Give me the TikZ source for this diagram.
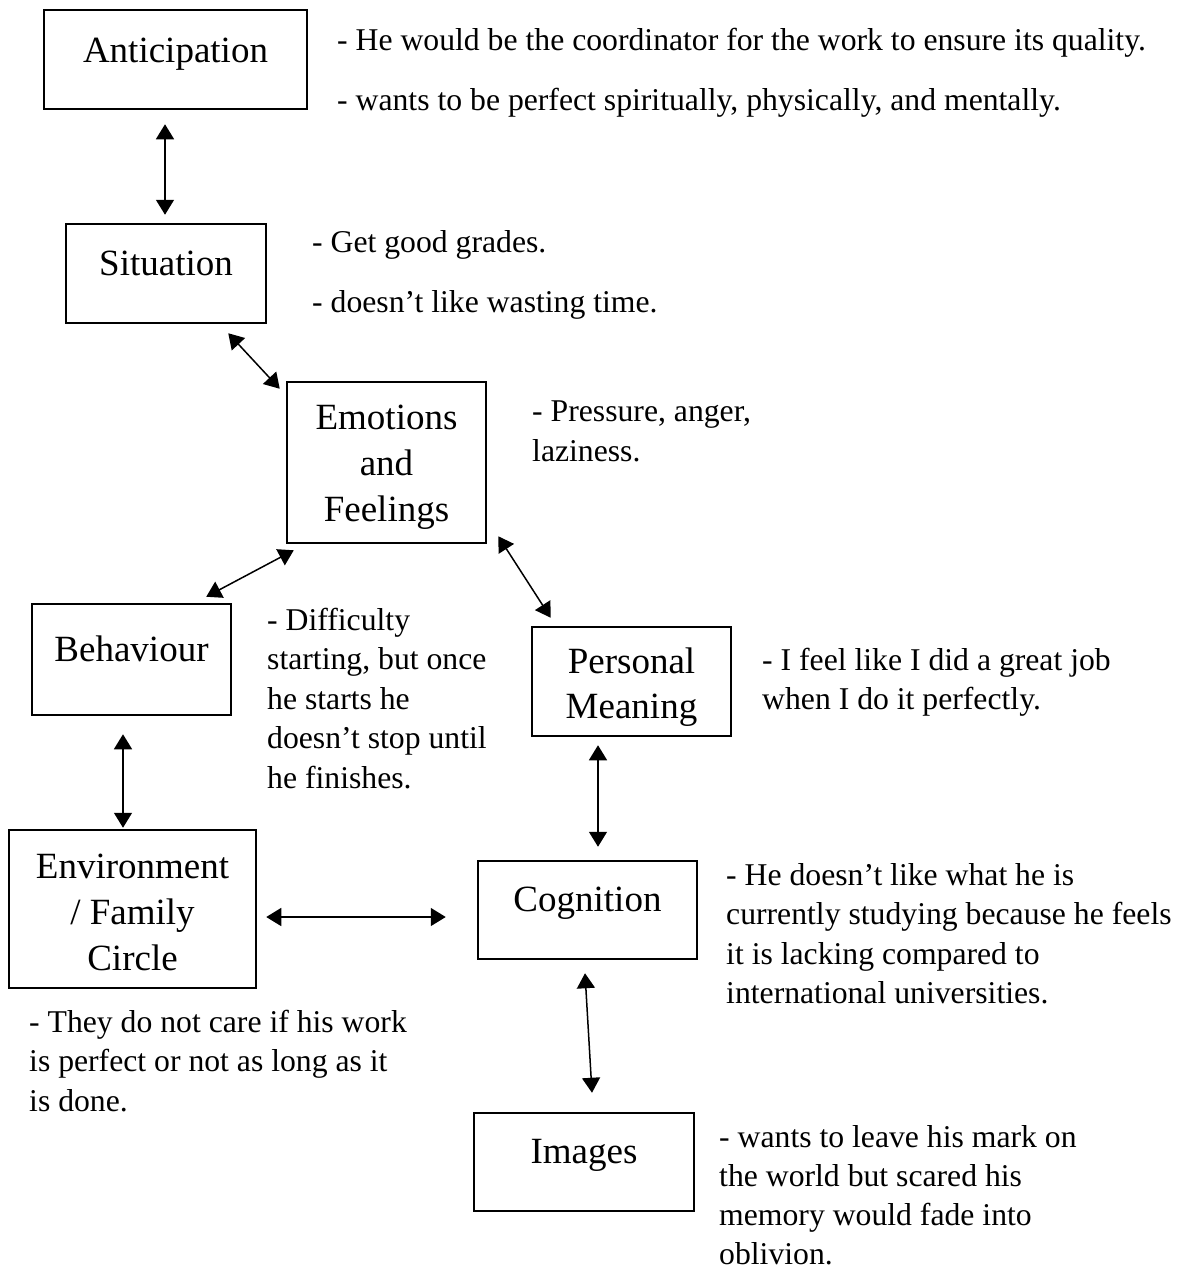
\documentclass[tikz,border=0pt]{standalone}
\usepackage{fontspec}
\setmainfont{Liberation Serif}
\usetikzlibrary{arrows.meta,calc}

\tikzset{
  box/.style={draw=black, line width=2.5pt, inner sep=0pt, rectangle},
  % multi-line nodes: the base anchor sits on the last line
  boxtext/.style={inner sep=0pt, anchor=base, align=center,
    font=\fontsize{37}{46}\selectfont},
  note/.style={inner sep=0pt, anchor=base west, align=left,
    font=\fontsize{31.7}{39.5}\selectfont},
  link/.style={line width=1.5pt,
    {Triangle[width=18pt,length=15pt]}-{Triangle[width=18pt,length=15pt]}}
}

\begin{document}
\begin{tikzpicture}[x=1pt,y=-1pt]
\useasboundingbox (0,0) rectangle (1182,1275);

% frames
\node[box, minimum width=263pt, minimum height=99pt]  (ant) at (175.5,59.5) {};
\node[box, minimum width=200pt, minimum height=99pt]  (sit) at (166,273.5) {};
\node[box, minimum width=199pt, minimum height=161pt] (emo) at (386.5,462.5) {};
\node[box, minimum width=199pt, minimum height=111pt] (beh) at (131.5,659.5) {};
\node[box, minimum width=199pt, minimum height=109pt] (per) at (631.5,681.5) {};
\node[box, minimum width=247pt, minimum height=158pt] (env) at (132.5,909) {};
\node[box, minimum width=219pt, minimum height=98pt]  (cog) at (587.5,910) {};
\node[box, minimum width=220pt, minimum height=98pt]  (img) at (584,1162) {};

% titles inside the frames
\node[boxtext] (antT) at (175.5,62)  {Anticipation};
\node[boxtext] (sitT) at (166,275)   {Situation};
\node[boxtext] (emoT) at (386.5,521) {Emotions\\and\\Feelings};
\node[boxtext] (behT) at (131.5,661) {Behaviour};
\node[boxtext, font=\fontsize{37}{45}\selectfont] (perT) at (631.5,718) {Personal\\Meaning};
\node[boxtext] (envT) at (132.5,970) {Environment\\/ Family\\Circle};
\node[boxtext] (cogT) at (587.5,911) {Cognition};
\node[boxtext] (imgT) at (584,1163)  {Images};

% notes
\node[note] (antN) at (337,110) {- He would be the coordinator for the work to ensure its quality.\\[20.5pt]- wants to be perfect spiritually, physically, and mentally.};
\node[note] (sitN) at (312,312) {- Get good grades.\\[20.5pt]- doesn’t like wasting time.};
\node[note] (emoN) at (532,461) {- Pressure, anger,\\laziness.};
\node[note] (behN) at (267,788) {- Difficulty\\starting, but once\\he starts he\\doesn’t stop until\\he finishes.};
\node[note] (perN) at (762,709.5) {- I feel like I did a great job\\when I do it perfectly.};
\node[note] (cogN) at (726,1003.5) {- He doesn’t like what he is\\currently studying because he feels\\it is lacking compared to\\international universities.};
\node[note] (envN) at (29,1111) {- They do not care if his work\\is perfect or not as long as it\\is done.};
\node[note, font=\fontsize{31.7}{39}\selectfont] (imgN) at (719,1264) {- wants to leave his mark on\\the world but scared his\\memory would fade into\\oblivion.};

% two-way links
\draw[link] ([xshift=-10.5pt,yshift=-14pt]ant.south) -- ([xshift=-1pt,yshift=8pt]sit.north);
\draw[link] ([xshift=-39pt,yshift=-9pt]sit.south east) -- ([xshift=-6pt,yshift=-8pt]emo.north west);
\draw[link] ([xshift=8pt,yshift=-6pt]emo.south west) -- ([xshift=-26pt,yshift=6pt]beh.north east);
\draw[link] ([xshift=11pt,yshift=8pt]emo.south east) -- ([xshift=20pt,yshift=8pt]per.north west);
\draw[link] ([xshift=-8.5pt,yshift=-18pt]beh.south) -- ([xshift=-9.5pt,yshift=1pt]env.north);
\draw[link] ([xshift=-33.5pt,yshift=-8pt]per.south) -- ([xshift=10.5pt,yshift=13pt]cog.north);
\draw[link] ([xshift=9pt,yshift=-8pt]env.east) -- ([xshift=-31pt,yshift=-7pt]cog.west);
\draw[link] ([xshift=-2.5pt,yshift=-13pt]cog.south) -- ([xshift=8pt,yshift=19pt]img.north);
\end{tikzpicture}
\end{document}
